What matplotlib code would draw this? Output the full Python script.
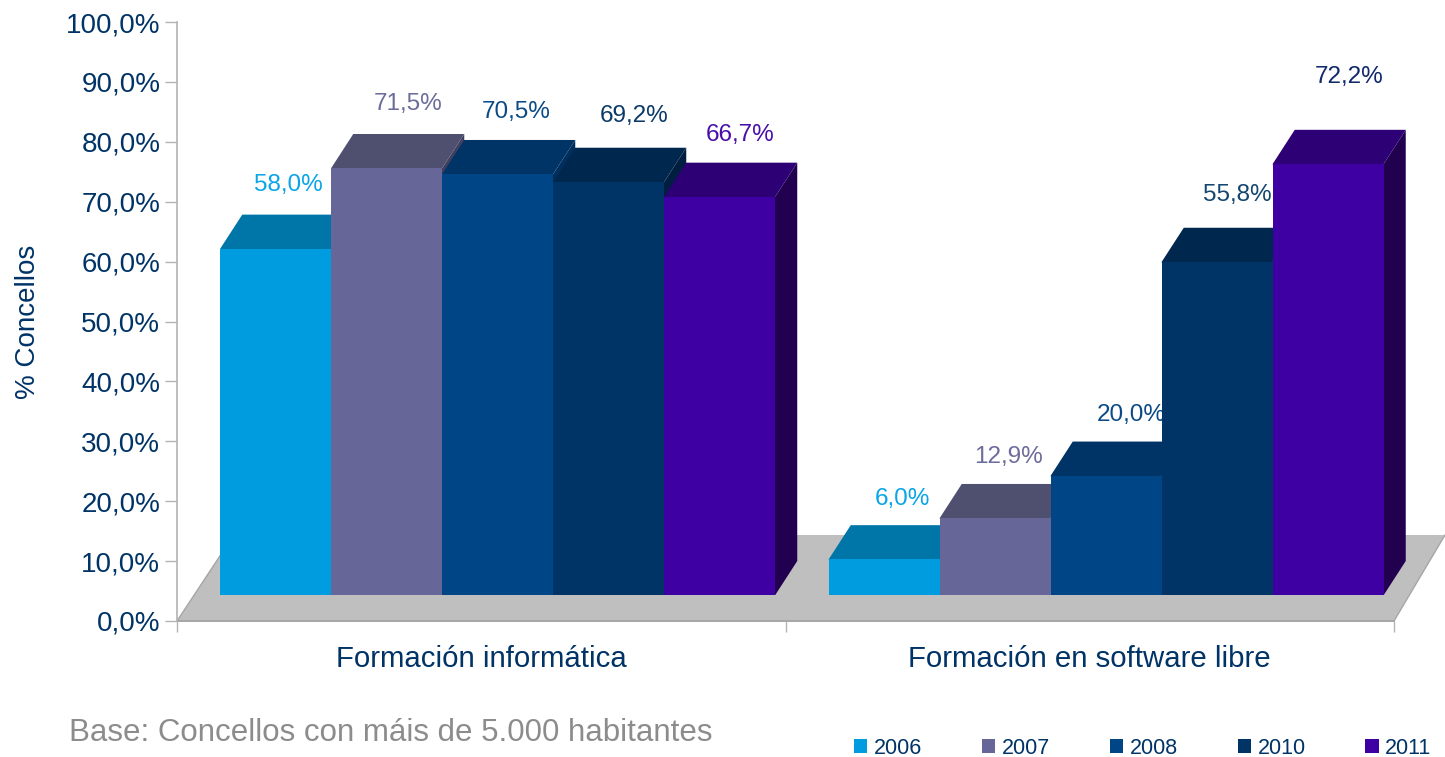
import matplotlib
matplotlib.use("Agg")
import matplotlib.pyplot as plt
from matplotlib.patches import Polygon, Patch
from matplotlib.transforms import Affine2D, IdentityTransform

plt.rcParams['font.family'] = ['Liberation Sans', 'DejaVu Sans']

categories = ['Formación informática', 'Formación en software libre']
years = ['2006', '2007', '2008', '2010', '2011']
values_2006 = [58.0, 6.0]
values_2007 = [71.5, 12.9]
values_2008 = [70.5, 20.0]
values_2010 = [69.2, 55.8]
values_2011 = [66.7, 72.2]
series = [values_2006, values_2007, values_2008, values_2010, values_2011]
y_ticks = [0, 10, 20, 30, 40, 50, 60, 70, 80, 90, 100]
y_tick_labels = ['0,0%', '10,0%', '20,0%', '30,0%', '40,0%', '50,0%',
                 '60,0%', '70,0%', '80,0%', '90,0%', '100,0%']
y_title = '% Concellos'
note = 'Base: Concellos con máis de 5.000 habitantes'

front_colors = ['#009CE0', '#666699', '#004586', '#003366', '#3F00A3']
top_colors = ['#0076A8', '#4F4F70', '#003366', '#00284F', '#2E0075']
side_colors = ['#00679A', '#3F3F60', '#002F5E', '#001F40', '#220050']
label_colors = [['#0AA5E8', '#0AA5E8'], ['#6C6C9C', '#6C6C9C'], ['#0B4A86', '#0B4A86'],
                ['#0B3A68', '#14466F'], ['#4A0FA8', '#10296B']]
# pixel offsets of each value label from its bar's top-centre
label_offsets = [[(13, 64), (18, 60)], [(21, 64), (13, 61)], [(18, 62), (25, 61)],
                 [(25, 66), (20, 67)], [(20, 62), (21, 87)]]
TEXT = '#003366'
W, H = 1445, 757

fig = plt.figure(figsize=(W / 100, H / 100), dpi=100)
L, R, T, B = 177, 1394, 22, 621
ax = fig.add_axes([L / W, 1 - B / H, (R - L) / W, (B - T) / H])
ax.set_xlim(0, 2)
ax.set_ylim(0, 100)
ax.patch.set_visible(False)

for s in ('top', 'right'):
    ax.spines[s].set_visible(False)
ax.spines['left'].set_color('#B3B3B3')
ax.spines['left'].set_linewidth(1.2)
ax.spines['bottom'].set_color('#A6A6A6')
ax.spines['bottom'].set_linewidth(1.4)
ax.spines['bottom'].set_zorder(1.5)

ax.set_yticks(y_ticks)
ax.set_yticklabels(y_tick_labels, fontsize=20, color=TEXT)
ax.tick_params(axis='y', length=8.6, width=1.0, color='#B3B3B3', pad=3.4)
ax.set_xticks([0, 1, 2])
ax.set_xticklabels(['', '', ''])
ax.tick_params(axis='x', which='major', length=8, width=1.0, color='#B3B3B3')
ax.set_xticks([0.5, 1.5], minor=True)
ax.set_xticklabels(categories, minor=True, fontsize=21.2, color=TEXT)
ax.tick_params(axis='x', which='minor', length=0, pad=17.5)

fig.text(28 / W, 1 - 322 / H, y_title, rotation=90, fontsize=20, color=TEXT,
         ha='center', va='center')
fig.text(69 / W, 1 - 733 / H, note, fontsize=22.5, color='#8C8C8C', ha='left', va='center')

# 3D effect: front faces sit shifted on the floor, tops and sides extend by the depth
shift_x, shift_y = 16.5, 26
depth_x, depth_y = 22, 34
base_px = H - B
front = ax.transData + Affine2D().translate(0, -base_px).scale(1, 0.997).translate(shift_x, base_px + shift_y)
id_t = IdentityTransform()

# floor
p0 = ax.transData.transform([(0, 0), (2, 0)])
floor = Polygon([p0[0], p0[1], p0[1] + (51, 86), p0[0] + (56, 86)], closed=True,
                facecolor='#BFBFBF', edgecolor='none', transform=id_t, zorder=1, clip_on=False)
ax.add_patch(floor)
ax.plot([p0[1][0], p0[1][0] + 51], [p0[1][1], p0[1][1] + 86], color='#A6A6A6', lw=1,
        transform=id_t, zorder=1.2, clip_on=False)
ax.plot([p0[0][0], p0[0][0] + 43], [p0[0][1], p0[0][1] + 65], color='#A6A6A6', lw=1,
        transform=id_t, zorder=1.2, clip_on=False)

width_px = 111
bar_w = width_px / ((R - L) / 2)
for g in range(2):
    for i, vals in enumerate(series):
        v = vals[g]
        x = g + 0.5 + (i - 2) * bar_w
        z = 2 + i
        ax.bar(x, v, bar_w, color=front_colors[i], linewidth=0, transform=front,
               zorder=z + 0.3, clip_on=False)
        (xl, yb), (xr, yt) = front.transform([(x - bar_w / 2, 0), (x + bar_w / 2, v)])
        ax.add_patch(Polygon([(xl, yt - 1), (xr, yt - 1), (xr, yt), (xr + depth_x, yt + depth_y), (xl + depth_x, yt + depth_y), (xl, yt)],
                             closed=True, facecolor=top_colors[i], edgecolor='none',
                             transform=id_t, zorder=z + 0.2, clip_on=False))
        ax.add_patch(Polygon([(xr - 1, yb), (xr - 1, yt), (xr, yt), (xr + depth_x, yt + depth_y), (xr + depth_x, yb + depth_y), (xr, yb)],
                             closed=True, facecolor=side_colors[i], edgecolor='none',
                             transform=id_t, zorder=z + 0.1, clip_on=False))
        dx, dy = label_offsets[i][g]
        ax.annotate(f'{v:.1f}%'.replace('.', ','), xy=((xl + xr) / 2 + dx, yt + dy),
                    xycoords=id_t, ha='center', va='center', fontsize=17.5,
                    color=label_colors[i][g], zorder=z + 0.9 if i < 4 else 8, annotation_clip=False)

handles = [Patch(facecolor=c, edgecolor='none', label=y) for c, y in zip(front_colors, years)]
fig.legend(handles=handles, ncol=5, loc='center left',
           bbox_to_anchor=(854 / W, 1 - 748 / H), frameon=False, fontsize=15.5,
           labelcolor=TEXT, handlelength=0.62, handleheight=0.62, handletextpad=0.3,
           columnspacing=2.78, borderpad=0, borderaxespad=0)

fig.savefig('out.png', dpi=100)
